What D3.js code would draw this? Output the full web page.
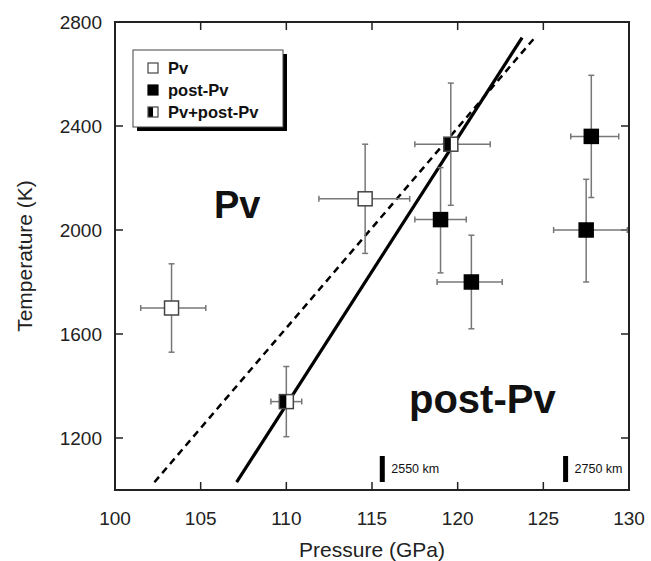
<!DOCTYPE html>
<html>
<head>
<meta charset="utf-8" />
<style>
    body { margin: 0; background: #fff; }
    text { font-family: "Liberation Sans", Arial, sans-serif; }
</style>
</head>
<body>
<svg width="651" height="561"></svg>
<script src="https://cdn.jsdelivr.net/npm/d3@7"></script>
<script>
// phase (0 = Pv, 1 = post-Pv, 2 = Pv+post-Pv)
var phase    = [0, 0, 2, 2, 1, 1, 1, 1];
var pressure = [103.3, 114.6, 110.0, 119.6, 119.0, 120.8, 127.8, 127.5];
var pLow     = [101.5, 111.9, 109.1, 117.5, 117.5, 118.8, 126.6, 125.6];
var pHigh    = [105.3, 117.2, 110.9, 121.9, 120.5, 122.6, 129.4, 129.9];
var temp     = [1700, 2120, 1340, 2330, 2040, 1800, 2360, 2000];
var tLow     = [1530, 1910, 1205, 2095, 1835, 1620, 2125, 1800];
var tHigh    = [1870, 2330, 1475, 2565, 2240, 1980, 2595, 2195];

var solidLine  = [[107.1, 1030], [123.76, 2740]];
var dashedLine = [[102.3, 1030], [124.5, 2740]];

var xTicks = [100, 105, 110, 115, 120, 125, 130];
var yTicks = [1200, 1600, 2000, 2400, 2800];

var depthP = [115.6, 126.3];
var depthLabel = ["2550 km", "2750 km"];

var legendLabels = ["Pv", "post-Pv", "Pv+post-Pv"];

var svg = d3.select("svg");
var mLeft = 115, mRight = 629, mTop = 22, mBottom = 490;

var x = d3.scaleLinear().domain([100, 130]).range([mLeft, mRight]);
var y = d3.scaleLinear().domain([1000, 2800]).range([mBottom, mTop]);

// ticks (inward, all four sides)
var tk = 8;
var g = svg.append("g").attr("stroke", "#222").attr("stroke-width", 1.5);
xTicks.slice(1, -1).forEach(function (v) {
    g.append("line").attr("x1", x(v)).attr("x2", x(v)).attr("y1", mBottom).attr("y2", mBottom - tk);
    g.append("line").attr("x1", x(v)).attr("x2", x(v)).attr("y1", mTop).attr("y2", mTop + tk);
});
yTicks.slice(0, -1).forEach(function (v) {
    g.append("line").attr("x1", mLeft).attr("x2", mLeft + tk).attr("y1", y(v)).attr("y2", y(v));
    g.append("line").attr("x1", mRight).attr("x2", mRight - tk).attr("y1", y(v)).attr("y2", y(v));
});

// tick labels
svg.append("g").selectAll("text").data(xTicks).enter().append("text")
    .attr("x", function (d) { return x(d); })
    .attr("y", mBottom + 35)
    .attr("text-anchor", "middle")
    .attr("font-size", 19)
    .attr("fill", "#222")
    .text(function (d) { return d; });

svg.append("g").selectAll("text").data(yTicks).enter().append("text")
    .attr("x", mLeft - 13)
    .attr("y", function (d) { return y(d) + 7; })
    .attr("text-anchor", "end")
    .attr("font-size", 19)
    .attr("fill", "#222")
    .text(function (d) { return d; });

svg.append("text")
    .attr("x", (mLeft + mRight) / 2).attr("y", 557)
    .attr("text-anchor", "middle").attr("font-size", 21).attr("fill", "#222")
    .text("Pressure (GPa)");

svg.append("text")
    .attr("transform", "translate(32," + ((mTop + mBottom) / 2) + ") rotate(-90)")
    .attr("text-anchor", "middle").attr("font-size", 21).attr("fill", "#222")
    .text("Temperature (K)");

// phase boundary lines
var line = d3.line().x(function (d) { return x(d[0]); }).y(function (d) { return y(d[1]); });
svg.append("path").attr("d", line(dashedLine))
    .attr("stroke", "#000").attr("stroke-width", 2.5).attr("stroke-dasharray", "7,5").attr("fill", "none");
svg.append("path").attr("d", line(solidLine))
    .attr("stroke", "#000").attr("stroke-width", 3.2).attr("fill", "none");

// error bars
var idx = d3.range(temp.length);
var cap = 3;
var eb = svg.append("g").attr("stroke", "#777").attr("stroke-width", 1.5);
idx.forEach(function (i) {
    var cx = x(pressure[i]), cy = y(temp[i]);
    eb.append("line").attr("x1", x(pLow[i])).attr("x2", x(pHigh[i])).attr("y1", cy).attr("y2", cy);
    eb.append("line").attr("x1", cx).attr("x2", cx).attr("y1", y(tLow[i])).attr("y2", y(tHigh[i]));
    [pLow[i], pHigh[i]].forEach(function (p) {
        eb.append("line").attr("x1", x(p)).attr("x2", x(p)).attr("y1", cy - cap).attr("y2", cy + cap);
    });
    [tLow[i], tHigh[i]].forEach(function (t) {
        eb.append("line").attr("x1", cx - cap).attr("x2", cx + cap).attr("y1", y(t)).attr("y2", y(t));
    });
});

function marker(sel, cx, cy, s, kind, sw) {
    var m = sel.append("g");
    m.append("rect").attr("x", cx - s / 2).attr("y", cy - s / 2).attr("width", s).attr("height", s)
        .attr("fill", kind === 1 ? "#000" : "#fff");
    if (kind === 2) {
        m.append("rect").attr("x", cx - s / 2).attr("y", cy - s / 2).attr("width", s / 2).attr("height", s)
            .attr("fill", "#000");
    }
    m.append("rect").attr("x", cx - s / 2).attr("y", cy - s / 2).attr("width", s).attr("height", s)
        .attr("fill", "none").attr("stroke", kind === 1 ? "#000" : "#444").attr("stroke-width", sw);
}

var pts = svg.append("g");
idx.forEach(function (i) {
    marker(pts, x(pressure[i]), y(temp[i]), 14, phase[i], 1.5);
});

// frame
svg.append("rect").attr("x", mLeft).attr("y", mTop).attr("width", mRight - mLeft).attr("height", mBottom - mTop)
    .attr("fill", "none").attr("stroke", "#222").attr("stroke-width", 2);

// region labels
svg.append("text").attr("x", 214).attr("y", 218).attr("font-size", 38).attr("font-weight", "bold")
    .attr("fill", "#111").text("Pv");
svg.append("text").attr("x", 409).attr("y", 413).attr("font-size", 40).attr("font-weight", "bold")
    .attr("fill", "#111").text("post-Pv");

// depth markers
depthP.forEach(function (p, i) {
    svg.append("rect").attr("x", x(p) - 2.5).attr("y", 456).attr("width", 5).attr("height", 26).attr("fill", "#000");
    svg.append("text").attr("x", x(p) + 9).attr("y", 473).attr("font-size", 12.5).attr("fill", "#111")
        .text(depthLabel[i]);
});

// legend
var lx = 133, ly = 50, lw = 150, lh = 77;
svg.append("rect").attr("x", lx + 4).attr("y", ly + 4).attr("width", lw).attr("height", lh).attr("fill", "#000");
svg.append("rect").attr("x", lx).attr("y", ly).attr("width", lw).attr("height", lh)
    .attr("fill", "#fff").attr("stroke", "#444").attr("stroke-width", 1);
legendLabels.forEach(function (lab, i) {
    var yy = ly + 18 + i * 22;
    marker(svg, 153, yy, 10, i, 1.2);
    svg.append("text").attr("x", 168).attr("y", yy + 6).attr("font-size", 16.5).attr("font-weight", "bold")
        .attr("fill", "#111").text(lab);
});
</script>
</body>
</html>
